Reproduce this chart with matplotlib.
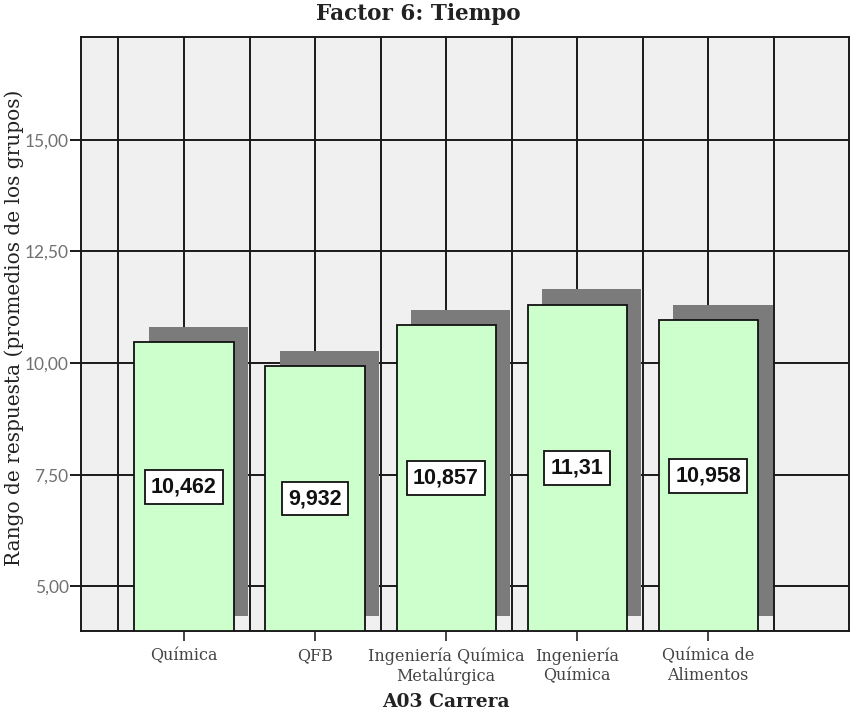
import matplotlib
matplotlib.use("Agg")
import matplotlib.pyplot as plt

categorias = ["Química", "QFB", "Ingeniería Química\nMetalúrgica", "Ingeniería\nQuímica", "Química de\nAlimentos"]
valores = [10.462, 9.932, 10.857, 11.31, 10.958]
etiquetas = ["10,462", "9,932", "10,857", "11,31", "10,958"]
yticks = [5.0, 7.5, 10.0, 12.5, 15.0]
yticklabels = ["5,00", "7,50", "10,00", "12,50", "15,00"]

ymin, ymax = 4.0, 17.3
ancho = 0.756
dx, dy = 0.114, 0.34

fig = plt.figure(figsize=(8.52, 7.12), dpi=100)
ax = fig.add_axes([0.0951, 0.1138, 0.9014, 0.8342])
ax.set_facecolor("#f0f0f0")
ax.set_xlim(-0.786, 5.076)
ax.set_ylim(ymin, ymax)

# grid: categories and midpoints
for xg in [i * 0.5 for i in range(-1, 10)]:
    ax.axvline(xg, color="#1a1a1a", lw=1.4, zorder=1)
for yg in yticks:
    ax.axhline(yg, color="#1a1a1a", lw=1.4, zorder=1)

x = list(range(len(categorias)))
# shadow
ax.bar([i + dx for i in x], [v - ymin for v in valores], bottom=ymin + dy,
       width=ancho, color="#7b7b7b", edgecolor="none", zorder=2)
ax.bar(x, [v - ymin for v in valores], bottom=ymin, width=ancho,
       color="#ccffcc", edgecolor="#111111", linewidth=1.3, zorder=3)

for i, (v, t) in enumerate(zip(valores, etiquetas)):
    ax.text(i, (v + ymin) / 2, t, ha="center", va="center", fontsize=15.5,
            fontweight="bold", family="Liberation Sans", color="#111111", zorder=4,
            bbox=dict(boxstyle="square,pad=0.3", fc="white", ec="#111111", lw=1.3))

ax.set_yticks(yticks)
ax.set_yticklabels(yticklabels, family="Lato", fontsize=12.5, color="#707070")
ax.set_xticks(x)
ax.set_xticklabels(categorias, family="DejaVu Serif", fontsize=11.5, color="#444444", linespacing=1.15)
ax.tick_params(axis="y", length=8, width=1.4, color="#1a1a1a", pad=1)
ax.tick_params(axis="x", length=7, width=1.4, color="#444444", pad=5)
for s in ax.spines.values():
    s.set_color("#1a1a1a")
    s.set_linewidth(1.4)

fig.text(418 / 852, 1 - 14 / 712, "Factor 6: Tiempo", family="DejaVu Serif", fontweight="semibold",
         fontsize=15.5, color="#222222", ha="center", va="center")
ax.set_xlabel("A03 Carrera", family="DejaVu Serif", fontweight="semibold", fontsize=13.5,
              color="#222222")
ax.xaxis.set_label_coords(0.475, -0.104)
ax.set_ylabel("Rango de respuesta (promedios de los grupos)", family="DejaVu Serif",
              fontsize=14.5, color="#222222")
ax.yaxis.set_label_coords(-0.074, 0.51)

fig.savefig("out.png", dpi=100)
